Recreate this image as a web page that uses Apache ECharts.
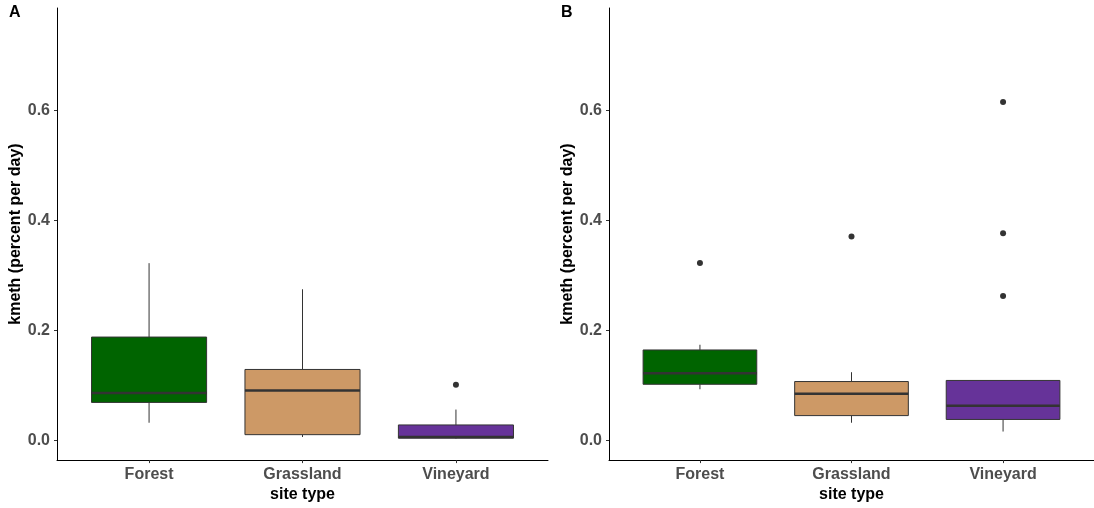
<!DOCTYPE html>
<html>
<head>
<meta charset="utf-8">
<script src="https://cdn.jsdelivr.net/npm/echarts@6/dist/echarts.min.js"></script>
<style>
html,body{margin:0;padding:0;background:#fff;}
#chart{width:1094px;height:508px;}
</style>
</head>
<body>
<div id="chart"></div>
<script>
// ---- data ----
const categories = ['Forest', 'Grassland', 'Vineyard'];
const colors = ['#006400', '#CD9966', '#663399'];
const yTicks = [0.0, 0.2, 0.4, 0.6];
// [low whisker, Q1, median, Q3, high whisker]
const boxesA = [
  [0.032, 0.069, 0.086, 0.188, 0.3225],
  [0.006, 0.0103, 0.0906, 0.129, 0.275],
  [0.003, 0.004, 0.006, 0.028, 0.056]
];
const outliersA = [
  [3, 0.101]
];
const boxesB = [
  [0.093, 0.102, 0.122, 0.1645, 0.174],
  [0.032, 0.045, 0.085, 0.107, 0.124],
  [0.016, 0.038, 0.063, 0.109, 0.109]
];
const outliersB = [
  [1, 0.323],
  [2, 0.371],
  [3, 0.616],
  [3, 0.377],
  [3, 0.2625]
];
const yTitle = 'kmeth (percent per day)';
const xTitle = 'site type';

// ---- chart ----
const font = '"Liberation Sans", Arial, Helvetica, sans-serif';
const chart = echarts.init(document.getElementById('chart'), null, {renderer: 'canvas'});

function boxData(boxes) {
  return boxes.map((b, i) => ({value: [i + 1, b[0], b[1], b[2], b[3], b[4]]}));
}

function renderBox(params, api) {
  const x = api.value(0);
  const low = api.coord([x, api.value(1)]);
  const q1 = api.coord([x, api.value(2)]);
  const med = api.coord([x, api.value(3)]);
  const q3 = api.coord([x, api.value(4)]);
  const high = api.coord([x, api.value(5)]);
  const w = api.size([0.75, 0])[0];
  const fill = colors[params.dataIndex];
  const stroke = '#333333';
  return {
    type: 'group',
    children: [
      {type: 'line', shape: {x1: low[0], y1: low[1], x2: q1[0], y2: q1[1]}, style: {stroke: stroke, lineWidth: 1}},
      {type: 'line', shape: {x1: q3[0], y1: q3[1], x2: high[0], y2: high[1]}, style: {stroke: stroke, lineWidth: 1}},
      {type: 'rect', shape: {x: q3[0] - w / 2, y: q3[1], width: w, height: q1[1] - q3[1]}, style: {fill: fill, stroke: stroke, lineWidth: 1}},
      {type: 'line', shape: {x1: med[0] - w / 2, y1: med[1], x2: med[0] + w / 2, y2: med[1]}, style: {stroke: stroke, lineWidth: 2.5}}
    ]
  };
}

function xAxisDef(gi) {
  return {
    type: 'value', gridIndex: gi, min: 0.4, max: 3.6,
    axisLine: {show: true, onZero: false, lineStyle: {color: '#000', width: 1}},
    axisTick: {show: true, customValues: [1, 2, 3], length: 3, lineStyle: {color: '#333', width: 1}},
    axisLabel: {show: true, customValues: [1, 2, 3], formatter: v => categories[Math.round(v) - 1] || '',
      color: '#4D4D4D', fontWeight: 'bold', fontSize: 16, fontFamily: font, margin: 6},
    splitLine: {show: false},
    name: xTitle, nameLocation: 'middle', nameGap: 23,
    nameTextStyle: {color: '#000', fontWeight: 'bold', fontSize: 16, fontFamily: font}
  };
}
function yAxisDef(gi) {
  return {
    type: 'value', gridIndex: gi, min: -0.036, max: 0.787,
    axisLine: {show: true, onZero: false, lineStyle: {color: '#000', width: 1}},
    axisTick: {show: true, customValues: yTicks, length: 3, lineStyle: {color: '#333', width: 1}},
    axisLabel: {show: true, customValues: yTicks, formatter: v => v.toFixed(1),
      color: '#4D4D4D', fontWeight: 'bold', fontSize: 16, fontFamily: font, margin: 7},
    splitLine: {show: false},
    name: yTitle, nameLocation: 'middle', nameGap: 32, nameRotate: 90,
    nameTextStyle: {color: '#000', fontWeight: 'bold', fontSize: 16, fontFamily: font}
  };
}

const option = {
  backgroundColor: '#ffffff',
  animation: false,
  grid: [
    {left: 57, right: 546, top: 8, bottom: 43},
    {left: 609, right: -6, top: 8, bottom: 43}
  ],
  xAxis: [xAxisDef(0), xAxisDef(1)],
  yAxis: [yAxisDef(0), yAxisDef(1)],
  graphic: [
    {type: 'text', left: 9, top: 5, style: {text: 'A', fontSize: 16, fontWeight: 'bold', fontFamily: font, fill: '#000'}},
    {type: 'text', left: 561, top: 5, style: {text: 'B', fontSize: 16, fontWeight: 'bold', fontFamily: font, fill: '#000'}}
  ],
  series: [
    {type: 'custom', xAxisIndex: 0, yAxisIndex: 0, renderItem: renderBox, data: boxData(boxesA), encode: {x: 0, y: [1, 2, 3, 4, 5]}},
    {type: 'scatter', xAxisIndex: 0, yAxisIndex: 0, data: outliersA, symbolSize: 6, itemStyle: {color: '#333333', opacity: 1}},
    {type: 'custom', xAxisIndex: 1, yAxisIndex: 1, renderItem: renderBox, data: boxData(boxesB), encode: {x: 0, y: [1, 2, 3, 4, 5]}},
    {type: 'scatter', xAxisIndex: 1, yAxisIndex: 1, data: outliersB, symbolSize: 6, itemStyle: {color: '#333333', opacity: 1}}
  ]
};
chart.setOption(option);
</script>
</body>
</html>
